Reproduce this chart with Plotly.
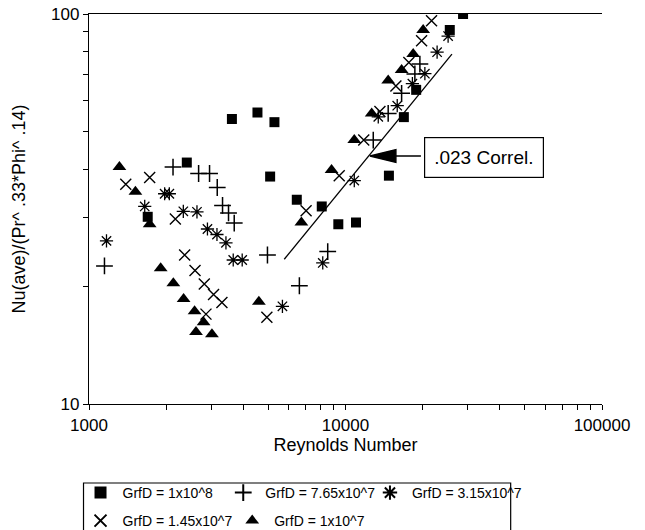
import plotly.graph_objects as go

# ---- data (Reynolds number, Nu/(Pr^.33*Phi^.14)) ----
re_1e8 = [1694, 2406, 3607, 4537, 5284, 5084, 6458, 8081, 9376, 10987, 14765, 16884, 18860, 25500, 28730]
nu_1e8 = [30.2, 41.6, 53.8, 55.9, 52.8, 38.3, 33.4, 32.1, 28.9, 29.2, 38.5, 54.4, 63.9, 91.0, 100.0]

re_765e7 = [1149, 2126, 2675, 2951, 3162, 3316, 3499, 3683, 4963, 6610, 8525, 12830, 14670, 16550, 18640, 19500]
nu_765e7 = [22.6, 40.5, 39.0, 39.0, 35.9, 32.3, 30.9, 29.1, 24.1, 20.1, 24.6, 47.5, 55.6, 62.6, 70.2, 74.4]

re_315e7 = [1170, 1649, 1972, 2057, 2332, 2636, 2896, 3154, 3419, 3650, 3956, 5677, 8153, 10820, 13420, 15910, 18230, 20390, 22760, 25120]
nu_315e7 = [26.2, 32.1, 34.6, 34.6, 31.2, 31.1, 28.1, 27.2, 25.9, 23.4, 23.4, 17.8, 23.0, 37.4, 54.5, 58.2, 66.3, 70.3, 79.8, 87.8]

re_145e7 = [1391, 1724, 2171, 2360, 2590, 2815, 3059, 3298, 2858, 4937, 7020, 9452, 11780, 13620, 15720, 17660, 19800, 21650]
nu_145e7 = [36.6, 38.1, 29.8, 24.1, 22.0, 20.3, 19.1, 18.2, 17.0, 16.7, 31.3, 38.5, 47.5, 56.2, 65.4, 75.1, 85.4, 96.1]

re_1e7 = [1314, 1517, 1724, 1903, 2132, 2338, 2580, 2797, 2613, 3015, 4595, 6730, 8822, 10820, 12650, 14670, 16550, 18360, 20080]
nu_1e7 = [40.5, 35.0, 28.9, 22.3, 20.4, 18.6, 17.3, 16.2, 15.3, 15.1, 18.3, 29.2, 39.8, 47.5, 55.6, 67.5, 71.8, 79.0, 91.0]

# .023 correlation line end points
corr_re = [5770, 26000]
corr_nu = [23.5, 78.9]

x_tickvals = [1000, 10000, 100000]
x_ticktext = ["1000", "10000", "100000"]
y_tickvals = [10, 100]
y_ticktext = ["10", "100"]
x_minor = [2000, 3000, 4000, 5000, 6000, 7000, 8000, 9000,
           20000, 30000, 40000, 50000, 60000, 70000, 80000, 90000]
y_minor = [20, 30, 40, 50, 60, 70, 80, 90]

FONT = "Liberation Sans, Arial, Helvetica, sans-serif"
BLACK = "#000000"

fig = go.Figure()

fig.add_trace(go.Scatter(
    x=re_1e8, y=nu_1e8, mode="markers", name="GrfD = 1x10^8",
    marker=dict(symbol="square", size=10, color=BLACK), legend="legend"))
fig.add_trace(go.Scatter(
    x=re_765e7, y=nu_765e7, mode="markers", name="GrfD = 7.65x10^7",
    marker=dict(symbol="cross-thin-open", size=12, color=BLACK, line=dict(width=1.5, color=BLACK)),
    legend="legend2"))
fig.add_trace(go.Scatter(
    x=re_315e7, y=nu_315e7, mode="markers", name="GrfD = 3.15x10^7",
    marker=dict(symbol="asterisk-open", size=11, color=BLACK, line=dict(width=1.3, color=BLACK)),
    legend="legend3"))
fig.add_trace(go.Scatter(
    x=re_145e7, y=nu_145e7, mode="markers", name="GrfD = 1.45x10^7",
    marker=dict(symbol="x-thin-open", size=11, color=BLACK, line=dict(width=1.4, color=BLACK)),
    legend="legend4"))
fig.add_trace(go.Scatter(
    x=re_1e7, y=nu_1e7, mode="markers", name="GrfD = 1x10^7",
    marker=dict(symbol="triangle-up", size=12, color=BLACK), legend="legend5"))
fig.add_trace(go.Scatter(
    x=corr_re, y=corr_nu, mode="lines", line=dict(color=BLACK, width=1.3),
    showlegend=False, hoverinfo="skip"))

# plot area in pixels: left 88.5, right 602.5, top 14, bottom 404
L, R, T, B = 88.5, 602.5, 14, 404
def px(xp):
    return (xp - L) / (R - L)
def py(yp):
    return (B - yp) / (B - T)

def legend_at(sym_x, row_y):
    return dict(
        x=px(sym_x - 22), y=py(row_y),
        orientation="h", bgcolor="rgba(0,0,0,0)", borderwidth=0,
        font=dict(family=FONT, size=14, color=BLACK),
        xanchor="left", yanchor="middle", itemsizing="constant",
        tracegroupgap=0, itemwidth=34,
    )

fig.update_layout(
    width=645, height=530,
    margin=dict(l=L, r=645 - R, t=T, b=530 - B, pad=0, autoexpand=False),
    paper_bgcolor="white", plot_bgcolor="white",
    font=dict(family=FONT, color=BLACK),
    showlegend=True,
    legend=legend_at(100, 493),
    legend2=legend_at(243, 493),
    legend3=legend_at(390, 493),
    legend4=legend_at(100, 521),
    legend5=legend_at(252, 521),
    xaxis=dict(
        type="log", range=[3, 5], showgrid=False, zeroline=False,
        showline=True, linecolor=BLACK, linewidth=1.4, mirror=True,
        ticks="outside", ticklen=5, tickwidth=1.2, tickcolor=BLACK,
        tickvals=x_tickvals, ticktext=x_ticktext,
        tickfont=dict(family=FONT, size=17, color=BLACK),
        minor=dict(ticks="outside", ticklen=5, tickwidth=1, tickcolor=BLACK, tickvals=x_minor),
        title=dict(text="Reynolds Number", font=dict(family=FONT, size=18, color=BLACK), standoff=0),
    ),
    yaxis=dict(
        type="log", range=[1, 2], showgrid=False, zeroline=False,
        showline=True, linecolor=BLACK, linewidth=1.4, mirror=False,
        ticks="outside", ticklen=5, tickwidth=1.2, tickcolor=BLACK,
        tickvals=y_tickvals, ticktext=y_ticktext,
        tickfont=dict(family=FONT, size=17, color=BLACK),
        minor=dict(ticks="outside", ticklen=5, tickwidth=1, tickcolor=BLACK, tickvals=y_minor),
        title=dict(text="Nu(ave)/(Pr^ .33*Phi^ .14)", font=dict(family=FONT, size=18, color=BLACK), standoff=20),
    ),
)

# correlation label box
fig.add_annotation(
    xref="paper", yref="paper", x=px(484.5), y=py(157),
    text=".023 Correl.", showarrow=False,
    font=dict(family=FONT, size=19, color=BLACK),
    bordercolor=BLACK, borderwidth=1.2, borderpad=9, bgcolor="white",
    xanchor="center", yanchor="middle",
)
# arrow (filled head + stem) pointing to the correlation line
fig.add_shape(
    type="path", xref="paper", yref="paper",
    xsizemode="pixel", ysizemode="pixel",
    xanchor=px(370), yanchor=py(156),
    path="M0,0 L26,6.5 L26,-6.5 Z M26,0 L51,0",
    fillcolor=BLACK, line=dict(color=BLACK, width=1.3),
)
# legend frame
fig.add_shape(
    type="rect", xref="paper", yref="paper",
    x0=px(83), x1=px(511), y0=py(483), y1=py(540),
    line=dict(color=BLACK, width=1.2), fillcolor="rgba(0,0,0,0)", layer="below",
)

fig.write_html("out.html")
